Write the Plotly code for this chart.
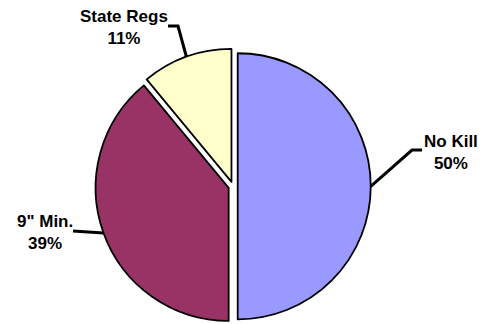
import math
import plotly.graph_objects as go

# Share of regulation types
categories = ["No Kill", "9\" Min.", "State Regs"]
values = [50, 39, 11]
colors = ["#9999FF", "#993366", "#FFFFCC"]

W, H = 483, 324
PULL = 0.035
DOMAIN_X = [0.10, 0.865]
DOMAIN_Y = [0.0, 0.85]


def px_to_paper(x, y):
    return x / W, 1 - y / H


# Pie geometry, following plotly's own pie sizing rule
box_w = W * (DOMAIN_X[1] - DOMAIN_X[0])
box_h = H * (DOMAIN_Y[1] - DOMAIN_Y[0])
radius = min(box_w, box_h) / 2 / (1 + PULL)
cx = W * (DOMAIN_X[0] + DOMAIN_X[1]) / 2
cy = H * (1 - DOMAIN_Y[0]) - box_h / 2

total = sum(values)
mid_angles = []
acc = 0
for v in values:
    mid_angles.append((acc + v / 2) / total * 2 * math.pi)
    acc += v


def edge_point(i):
    a = mid_angles[i]
    d = radius * (1 + PULL)
    return cx + d * math.sin(a), cy - d * math.cos(a)


fig = go.Figure(
    go.Pie(
        labels=categories,
        values=values,
        sort=False,
        direction="clockwise",
        rotation=0,
        pull=[PULL] * len(values),
        marker=dict(colors=colors, line=dict(color="#000000", width=1.8)),
        textinfo="none",
        hoverinfo="label+percent",
        domain=dict(x=DOMAIN_X, y=DOMAIN_Y),
        showlegend=False,
    )
)

# Label placement (pixel positions) and leader-line bends
label_pos = [(450.5, 152.5), (44.5, 232.0), (123.5, 27.5)]
leader_bends = [
    [(412, 150), (422, 150)],
    [(73, 231)],
    [(178, 26), (168, 26)],
]

annotations = []
shapes = []
for i, name in enumerate(categories):
    lx, ly = label_pos[i]
    ax, ay = px_to_paper(lx, ly)
    annotations.append(
        dict(
            x=ax, y=ay, xref="paper", yref="paper",
            text=f"{name}<br>{values[i]}%",
            showarrow=False,
            xanchor="center", yanchor="middle",
            font=dict(family="Liberation Sans, Arial, sans-serif", size=17,
                      color="#000000", weight="bold"),
        )
    )
    pts = [edge_point(i)] + leader_bends[i]
    path = ""
    for j, (x, y) in enumerate(pts):
        px_, py_ = px_to_paper(x, y)
        path += ("M" if j == 0 else " L") + f"{px_:.5f},{py_:.5f}"
    shapes.append(
        dict(type="path", xref="paper", yref="paper", path=path,
             line=dict(color="#000000", width=3))
    )

fig.update_layout(
    width=W, height=H,
    margin=dict(l=0, r=0, t=0, b=0),
    paper_bgcolor="#FFFFFF",
    plot_bgcolor="#FFFFFF",
    annotations=annotations,
    shapes=shapes,
)

fig.write_html("out.html")
